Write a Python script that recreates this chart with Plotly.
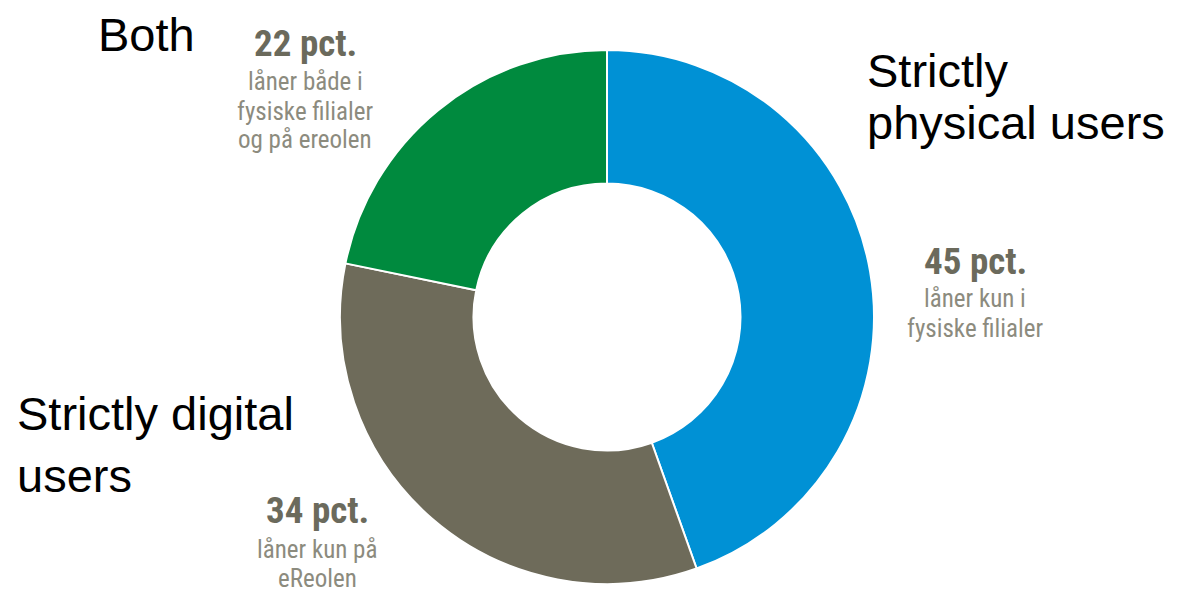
import plotly.graph_objects as go

W, H = 1178, 599
OFF = 8  # page body margin in the browser

segments = ["Strictly physical users", "Strictly digital users", "Both"]
values = [45, 34, 22]
colors = ["#0091D5", "#6E6B5A", "#008A3E"]

pct_labels = ["45 pct.", "34 pct.", "22 pct."]
sub_labels = [
    ["låner kun i", "fysiske filialer"],
    ["låner kun på", "eReolen"],
    ["låner både i", "fysiske filialer", "og på ereolen"],
]
# pixel anchors (center x, baseline y of the pct line, baselines of sub lines)
pct_pos = [(975, 274), (317, 523), (305, 56)]
sub_base = [[307, 337], [558, 587], [90, 120, 148]]

big_lines = [
    ("Strictly", 866, 87),
    ("physical users", 866, 139),
    ("Strictly digital", 16, 430),
    ("users", 16, 492),
    ("Both", 97, 51),
]

cx, cy, r = 607, 317, 267


def px(x):
    return (x - OFF) / W


def py(y):
    return 1 - (y - OFF) / H


fig = go.Figure(go.Pie(
    labels=segments,
    values=values,
    hole=0.5,
    sort=False,
    direction="clockwise",
    rotation=0,
    marker=dict(colors=colors, line=dict(color="white", width=2)),
    textinfo="none",
    hoverinfo="label+percent",
    showlegend=False,
    domain=dict(x=[px(cx - r), px(cx + r)], y=[py(cy + r), py(cy - r)]),
))

ann = []
BIG = 47
for txt, x, base in big_lines:
    ann.append(dict(text=txt, x=px(x), y=py(base - 0.35 * BIG), xref="paper", yref="paper",
                    xanchor="left", yanchor="middle", showarrow=False, borderpad=0,
                    font=dict(family="Liberation Sans, Arial", size=BIG, color="#000000")))

PCT = 37
SUB = 25
narrow = "Liberation Sans Narrow, Arial Narrow, Roboto Condensed, Liberation Sans"
for i in range(len(pct_labels)):
    x, base = pct_pos[i]
    ann.append(dict(text="<b>" + pct_labels[i] + "</b>", x=px(x), y=py(base - 0.35 * PCT),
                    xref="paper", yref="paper", xanchor="center", yanchor="middle", showarrow=False,
                    borderpad=0, font=dict(family=narrow, size=PCT, color="#6B6A5C")))
    for line, b in zip(sub_labels[i], sub_base[i]):
        ann.append(dict(text=line, x=px(x), y=py(b - 0.35 * SUB),
                        xref="paper", yref="paper", xanchor="center", yanchor="middle", showarrow=False,
                        borderpad=0, font=dict(family=narrow, size=SUB, color="#8C8B7E")))

fig.update_layout(
    width=W, height=H,
    margin=dict(l=0, r=0, t=0, b=0),
    paper_bgcolor="white",
    plot_bgcolor="white",
    annotations=ann,
)

fig.write_html("out.html")
